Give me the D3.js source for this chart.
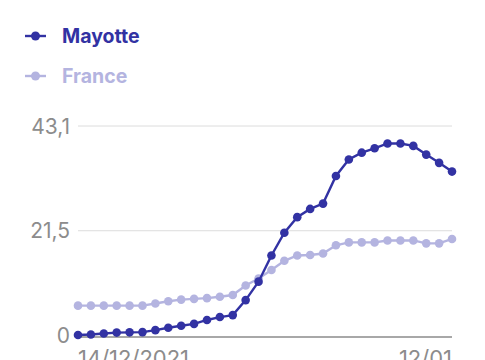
<!DOCTYPE html>
<html>
<head>
<meta charset="utf-8">
<script src="https://cdn.jsdelivr.net/npm/d3@7"></script>
<style>
  html, body { margin: 0; padding: 0; background: #fff; overflow: hidden; }
  svg { display: block; font-family: Inter, "Noto Sans", sans-serif; }
</style>
</head>
<body>
<div id="chart"></div>
<script>
// daily values, 14/12/2021 -> 12/01/2022
var mayotte = [0.0, 0.1, 0.3, 0.5, 0.55, 0.6, 1.0, 1.5, 1.9, 2.3, 3.1, 3.7, 4.1, 7.2, 11.0, 16.4, 21.1, 24.3, 26.0, 27.1, 32.8, 36.2, 37.6, 38.5, 39.5, 39.5, 39.0, 37.2, 35.5, 33.7]
var france = [6.05, 6.05, 6.05, 6.05, 6.05, 6.05, 6.5, 6.95, 7.3, 7.45, 7.6, 7.9, 8.25, 10.2, 11.65, 13.4, 15.3, 16.4, 16.5, 16.8, 18.5, 19.1, 19.1, 19.1, 19.5, 19.5, 19.5, 18.9, 18.9, 19.8]
var seriesNames = ["Mayotte", "France"]
var seriesColors = ["#3232a3", "#b4b4e0"]
var yTicks = [0, 21.5, 43.1]
var startDate = new Date(2021, 11, 14)
var xTickLabels = ["14/12/2021", "12/01"]

var width = 485, height = 360

var svg = d3.select("#chart").append("svg")
    .attr("width", width)
    .attr("height", height)

var dates = mayotte.map((d, i) => d3.timeDay.offset(startDate, i))

var x = d3.scaleTime()
    .domain([dates[0], dates[dates.length - 1]])
    .range([78, 452])

var y = d3.scaleLinear()
    .domain([0, 43.1])
    .range([335, 126])

// gridlines
svg.append("g").selectAll("line")
    .data(yTicks.filter(d => d > 0))
    .join("line")
    .attr("x1", 78).attr("x2", 452)
    .attr("y1", d => y(d)).attr("y2", d => y(d))
    .attr("stroke", "#dcdcdc")
    .attr("stroke-width", 1)

// baseline
svg.append("line")
    .attr("x1", 78).attr("x2", 452)
    .attr("y1", y(0) + 2).attr("y2", y(0) + 2)
    .attr("stroke", "#a8a8a8")
    .attr("stroke-width", 2)

// y labels
svg.append("g").selectAll("text")
    .data(yTicks)
    .join("text")
    .attr("x", 70)
    .attr("y", d => y(d) + 7.5)
    .attr("text-anchor", "end")
    .attr("font-size", 21)
    .attr("fill", "#8c8c8c")
    .text(d => d3.format(".1~f")(d).replace(".", ","))

// x labels
svg.append("text")
    .attr("x", x(dates[0]))
    .attr("y", 366)
    .attr("font-size", 22)
    .attr("fill", "#8c8c8c")
    .text(xTickLabels[0])

svg.append("text")
    .attr("x", x(dates[dates.length - 1]))
    .attr("y", 366)
    .attr("text-anchor", "end")
    .attr("font-size", 22)
    .attr("fill", "#8c8c8c")
    .text(xTickLabels[1])

var line = d3.line()
    .x((d, i) => x(dates[i]))
    .y(d => y(d))

var allSeries = [france, mayotte]
var allColors = [seriesColors[1], seriesColors[0]]

allSeries.forEach((s, k) => {
    var g = svg.append("g")
    g.append("path")
        .datum(s)
        .attr("d", line)
        .attr("fill", "none")
        .attr("stroke", allColors[k])
        .attr("stroke-width", 2.4)
    g.selectAll("circle")
        .data(s)
        .join("circle")
        .attr("cx", (d, i) => x(dates[i]))
        .attr("cy", d => y(d))
        .attr("r", 4.3)
        .attr("fill", allColors[k])
})

// legend
var legend = svg.append("g").selectAll("g")
    .data(seriesNames)
    .join("g")
    .attr("transform", (d, i) => `translate(0, ${36 + i * 40})`)

legend.append("line")
    .attr("x1", 25).attr("x2", 46)
    .attr("stroke", (d, i) => seriesColors[i])
    .attr("stroke-width", 2.4)

legend.append("circle")
    .attr("cx", 35.5)
    .attr("r", 4.5)
    .attr("fill", (d, i) => seriesColors[i])

legend.append("text")
    .attr("x", 62)
    .attr("y", 7)
    .attr("font-size", 19.5)
    .attr("font-weight", "bold")
    .attr("fill", (d, i) => seriesColors[i])
    .text(d => d)
</script>
</body>
</html>
